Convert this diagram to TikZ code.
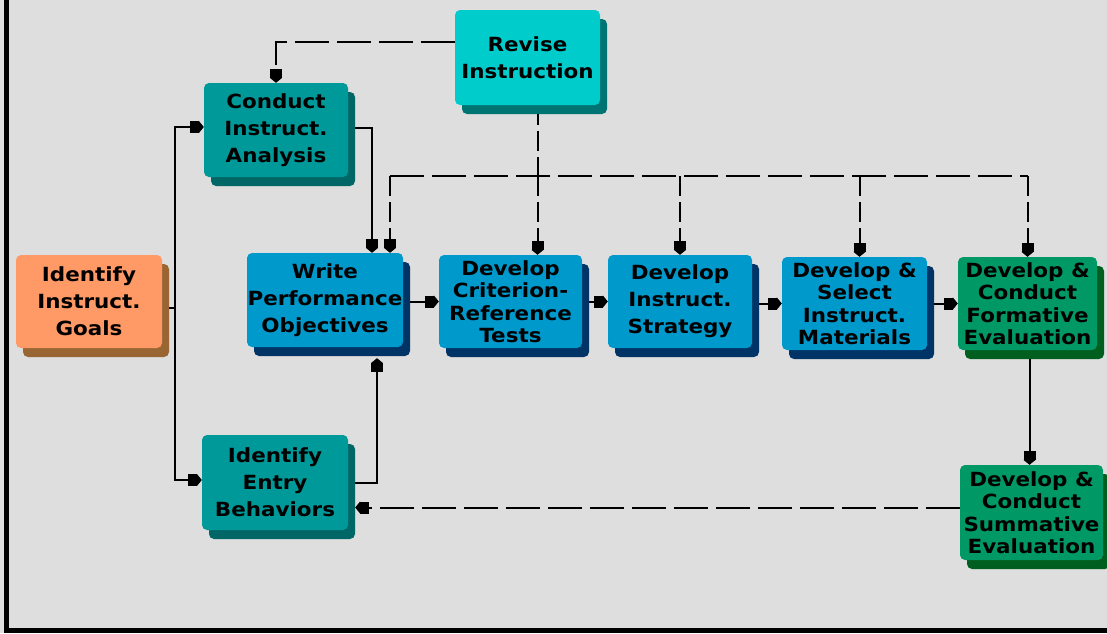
\documentclass[tikz,border=0pt]{standalone}
\usepackage{fontspec}
\newfontfamily\boxfont[FakeStretch=1.1]{DejaVu Sans}
\usetikzlibrary{arrows.meta,shadows}
\definecolor{bgGray}{HTML}{DEDEDE}
\definecolor{orangeF}{HTML}{FF9966}
\definecolor{orangeS}{HTML}{996633}
\definecolor{tealF}{HTML}{009999}
\definecolor{tealS}{HTML}{006666}
\definecolor{cyanF}{HTML}{00CCCC}
\definecolor{cyanS}{HTML}{007373}
\definecolor{blueF}{HTML}{0099CC}
\definecolor{blueS}{HTML}{003366}
\definecolor{greenF}{HTML}{009966}
\definecolor{greenS}{HTML}{005E1E}
\pgfdeclarelayer{backdrop}
\pgfdeclarelayer{wires}
\pgfsetlayers{backdrop,wires,main}
\tikzset{
  box/.style 2 args={draw=none, fill=#1, rounded corners=5pt, inner sep=0pt,
    align=center, text=black,
    font=\boxfont\bfseries\fontsize{19.5}{27}\selectfont,
    general shadow={fill=#2, shadow xshift=7pt, shadow yshift=-9pt}},
  tight/.style={font=\boxfont\bfseries\fontsize{19.5}{22.5}\selectfont},
  sline/.style={draw=black, line width=2pt},
  dline/.style={draw=black, line width=2pt, dash pattern=on 34pt off 8pt},
  dlinev/.style={draw=black, line width=2pt, dash pattern=on 20pt off 6pt},
  arr/.style={-{Square[length=9pt,width=12pt,sep=0pt]Triangle[length=5pt,width=12pt]}},
}
\begin{document}
\begin{tikzpicture}[x=1pt,y=-1pt]
\begin{pgfonlayer}{backdrop}
  \fill[bgGray] (0,0) rectangle (1107,633);
  \fill[black] (4,0) rectangle (9,633);
  \fill[black] (4,628) rectangle (1107,633);
\end{pgfonlayer}

% process boxes
\node[box={orangeF}{orangeS}, minimum width=146pt, minimum height=93pt] (goals) at (89,301.5) {Identify\\Instruct.\\Goals};
\node[box={tealF}{tealS}, minimum width=144pt, minimum height=94pt] (analysis) at (276,130) {Conduct\\Instruct.\\Analysis};
\node[box={tealF}{tealS}, minimum width=146pt, minimum height=95pt] (entry) at (275,482.5) {Identify\\Entry\\Behaviors};
\node[box={cyanF}{cyanS}, minimum width=145pt, minimum height=95pt] (revise) at (527.5,57.5) {Revise\\Instruction};
\node[box={blueF}{blueS}, minimum width=156pt, minimum height=94pt] (write) at (325,300) {Write\\Performance\\Objectives};
\node[box={blueF}{blueS}, tight, minimum width=143pt, minimum height=93pt] (criterion) at (510.5,301.5) {Develop\\Criterion-\\Reference\\Tests};
\node[box={blueF}{blueS}, minimum width=144pt, minimum height=93pt] (strategy) at (680,301.5) {Develop\\Instruct.\\Strategy};
\node[box={blueF}{blueS}, tight, minimum width=145pt, minimum height=93pt] (materials) at (854.5,303.5) {Develop \&\\Select\\Instruct.\\Materials};
\node[box={greenF}{greenS}, tight, minimum width=139pt, minimum height=93pt] (formative) at (1027.5,303.5) {Develop \&\\Conduct\\Formative\\Evaluation};
\node[box={greenF}{greenS}, tight, minimum width=143pt, minimum height=95pt] (summative) at (1031.5,512.5) {Develop \&\\Conduct\\Summative\\Evaluation};

\begin{pgfonlayer}{wires}
  % goals feed analysis and entry behaviours
  \coordinate (trunk) at (175,0);
  \coordinate (gx) at ([yshift=-6pt]goals.east);
  \draw[sline] (gx) -- (gx -| trunk);
  \draw[sline,arr] (gx -| trunk) |- ([yshift=3pt]analysis.west);
  \draw[sline,arr] (gx -| trunk) |- ([yshift=2.5pt]entry.west);
  \draw[sline,arr] ([yshift=2pt]analysis.east) -| ([xshift=47pt]write.north);
  \draw[sline,arr] (entry.east) -| ([xshift=52pt,yshift=-11pt]write.south);

  % main chain
  \draw[sline,arr] (criterion.west -| write.east) -- (criterion.west);
  \draw[sline,arr] (strategy.west -| criterion.east) -- (strategy.west);
  \draw[sline,arr] (materials.west -| strategy.east) -- (materials.west);
  \draw[sline,arr] (formative.west -| materials.east) -- (formative.west);
  \draw[sline,arr] ([xshift=2pt]formative.south) -- ([xshift=2pt]formative.south |- summative.north);

  % revision feedback
  \coordinate (busL) at ([xshift=65pt]write.north |- 0,176);
  \coordinate (busR) at (formative.north |- busL);
  \coordinate (rv) at ([xshift=10pt]revise.south);
  \draw[dline,arr] ([yshift=16pt]revise.west) -| (analysis.north);
  \draw[dlinev] (rv) -- (rv |- busL);
  \draw[dline] (busL) -- (busR);
  \draw[dlinev,arr] (busL) -- (busL |- write.north);
  \draw[dlinev,arr] (rv |- busL) -- (rv |- criterion.north);
  \draw[dlinev,arr] (strategy.north |- busL) -- (strategy.north);
  \draw[dlinev,arr] ([xshift=5pt]materials.north |- busL) -- ([xshift=5pt]materials.north);
  \draw[dlinev,arr] (busR) -- (busR |- formative.north);
  \draw[dline,arr] ([yshift=5pt]summative.west) -- ([yshift=5pt,xshift=7pt]summative.west -| entry.east);
\end{pgfonlayer}
\end{tikzpicture}
\end{document}
